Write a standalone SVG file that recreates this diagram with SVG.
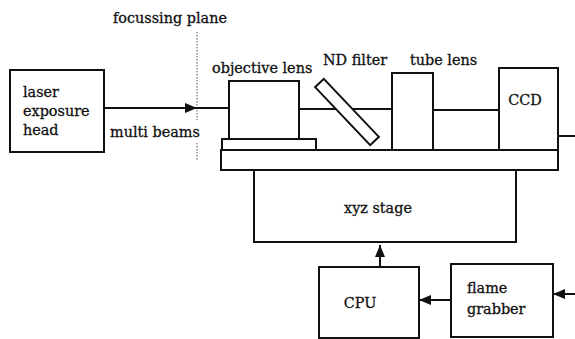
<svg xmlns="http://www.w3.org/2000/svg" width="575" height="339" viewBox="0 0 575 339">
<style>
.b{fill:#fff;stroke:#111;stroke-width:2}
.l{fill:none;stroke:#111;stroke-width:2}
text{font-family:"DejaVu Serif","Liberation Serif",serif;font-size:14.4px;fill:#111;stroke:#111;stroke-width:0.3px}
.c{text-anchor:middle}
</style>
<defs>
<marker id="ah" viewBox="0 0 12 10" refX="12" refY="5" markerWidth="12" markerHeight="10" markerUnits="userSpaceOnUse" orient="auto">
<path d="M0,0 L12,5 L0,10 Z" fill="#111"/>
</marker>
</defs>
<rect width="575" height="339" fill="#fff"/>
<text x="113" y="23">focussing plane</text>
<line x1="197" y1="32" x2="197" y2="120" stroke="#555" stroke-width="1" stroke-dasharray="1.5 1.5"/>
<line x1="197" y1="143" x2="197" y2="160" stroke="#555" stroke-width="1" stroke-dasharray="1.5 1.5"/>
<g id="connectors">
<line class="l" x1="104" y1="108" x2="197" y2="108" marker-end="url(#ah)"/>
<line class="l" x1="197" y1="108" x2="229" y2="108"/>
<line class="l" x1="299" y1="109" x2="392" y2="109"/>
<line class="l" x1="433" y1="110" x2="499" y2="110"/>
<line class="l" x1="558" y1="136" x2="575" y2="136"/>
<line class="l" x1="380" y1="267" x2="380" y2="245" marker-end="url(#ah)"/>
<line class="l" x1="451" y1="300" x2="419" y2="300" marker-end="url(#ah)"/>
<line class="l" x1="575" y1="294" x2="553" y2="294" marker-end="url(#ah)"/>
</g>
<g id="laser">
<rect class="b" x="10" y="70" width="94" height="82"/>
<text x="23" y="97">laser</text>
<text x="23" y="116">exposure</text>
<text x="23" y="135">head</text>
</g>
<text x="110" y="137">multi beams</text>
<g id="plate">
<rect class="b" x="221" y="150" width="337" height="20"/>
</g>
<g id="objective">
<rect class="b" x="222" y="139" width="94" height="11"/>
<rect class="b" x="229" y="81" width="70" height="58"/>
<text x="212" y="73">objective lens</text>
</g>
<g id="ndfilter">
<rect class="b" x="-40" y="-6" width="80" height="12" transform="translate(347 112) rotate(46.5)"/>
<text x="323" y="65">ND filter</text>
</g>
<g id="tubelens">
<rect class="b" x="392" y="73" width="41" height="77"/>
<text x="410" y="65">tube lens</text>
</g>
<g id="ccd">
<rect class="b" x="499" y="68" width="59" height="82"/>
<text class="c" x="525" y="105">CCD</text>
</g>
<g id="stage">
<rect class="b" x="254" y="170" width="262" height="72"/>
<text class="c" x="378" y="213">xyz stage</text>
</g>
<g id="cpu">
<rect class="b" x="319" y="267" width="100" height="71"/>
<text class="c" x="360" y="308">CPU</text>
</g>
<g id="grabber">
<rect class="b" x="451" y="264" width="102" height="73"/>
<text x="467" y="293">flame</text>
<text x="467" y="314">grabber</text>
</g>
</svg>
